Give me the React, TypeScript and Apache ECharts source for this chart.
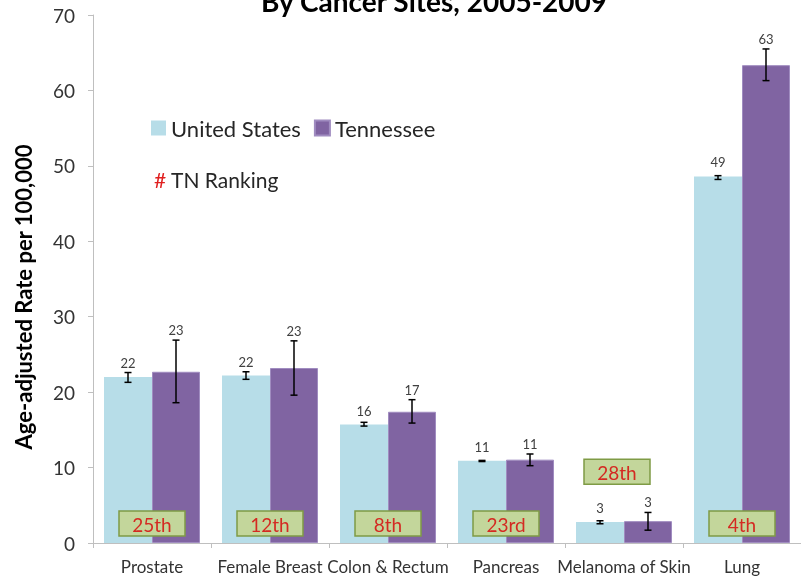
import React, { useEffect, useRef } from "react";
import * as echarts from "echarts";

const categories = ["Prostate", "Female Breast", "Colon & Rectum", "Pancreas", "Melanoma of Skin", "Lung"];
const usValues = [22.0, 22.2, 15.7, 10.9, 2.8, 48.6];
const tnValues = [22.7, 23.2, 17.4, 11.05, 2.9, 63.35];
const usLow = [21.3, 21.7, 15.5, 10.8, 2.55, 48.2];
const usHigh = [22.6, 22.7, 16.0, 10.95, 2.95, 48.7];
const tnLow = [18.6, 19.6, 15.9, 10.25, 1.7, 61.3];
const tnHigh = [26.9, 26.8, 19.0, 11.8, 4.05, 65.5];
const tnRanks = ["25th", "12th", "8th", "23rd", "28th", "4th"];
const yMin = 0;
const yMax = 70;
const yInterval = 10;

const BAR_W = 48;
const FONT = "Lato, 'Open Sans', sans-serif";

function errorRenderer(offset: number) {
  return (params: any, api: any) => {
    const cat = api.value(0);
    const v = api.value(1);
    const lo = api.value(2);
    const hi = api.value(3);
    const cHi = api.coord([cat, hi]);
    const x = cHi[0] + offset;
    const yHi = cHi[1];
    const yLo = api.coord([cat, lo])[1];
    const yBar = api.coord([cat, v])[1];
    const labelY = Math.min(yBar - 14, yHi - 10);
    const st = { stroke: "#000", lineWidth: 1.5 };
    return {
      type: "group",
      children: [
        { type: "line", shape: { x1: x, y1: yHi, x2: x, y2: yLo }, style: st },
        { type: "line", shape: { x1: x - 3.5, y1: yHi, x2: x + 3.5, y2: yHi }, style: st },
        { type: "line", shape: { x1: x - 3.5, y1: yLo, x2: x + 3.5, y2: yLo }, style: st },
        {
          type: "text",
          x: x,
          y: labelY,
          style: {
            text: String(Math.round(v)),
            align: "center",
            verticalAlign: "middle",
            fontSize: 13,
            fontFamily: FONT,
            fill: "#404040",
          },
        },
      ],
    };
  };
}

function rankRenderer(params: any, api: any) {
  const cat = api.value(0);
  const maxV = api.value(1);
  const raised = maxV < 6;
  const yVal = raised ? 9.45 : 2.6;
  const c = api.coord([cat, yVal]);
  const cx = c[0] + (raised ? -7 : 0);
  const cy = c[1];
  const w = 66;
  const h = 25;
  return {
    type: "group",
    children: [
      {
        type: "rect",
        shape: { x: cx - w / 2, y: cy - h / 2, width: w, height: h },
        style: { fill: "#c3d69b", stroke: "#7f9b45", lineWidth: 1.5 },
      },
      {
        type: "text",
        x: cx,
        y: cy + 1,
        style: {
          text: tnRanks[cat],
          align: "center",
          verticalAlign: "middle",
          fontSize: 19,
          fontFamily: FONT,
          fill: "#d42a22",
        },
      },
    ],
  };
}

export default function App() {
  const ref = useRef<HTMLDivElement>(null);
  useEffect(() => {
    if (!ref.current) return;
    const chart = echarts.init(ref.current, undefined, { renderer: "svg" });
    const usErr = categories.map((_, i) => [i, usValues[i], usLow[i], usHigh[i]]);
    const tnErr = categories.map((_, i) => [i, tnValues[i], tnLow[i], tnHigh[i]]);
    const rankData = categories.map((_, i) => [i, Math.max(usValues[i], tnValues[i])]);
    chart.setOption({
      animation: false,
      grid: { left: 93, right: -7, top: 15, bottom: 34, containLabel: false },
      legend: {
        data: ["United States", "Tennessee"],
        left: 151,
        top: 117,
        padding: 0,
        icon: "rect",
        itemWidth: 15,
        itemHeight: 15,
        itemGap: 13,
        textStyle: { fontFamily: FONT, fontSize: 22, color: "#262626" },
      },
      xAxis: {
        type: "category",
        data: categories,
        axisLine: { lineStyle: { color: "#bfbfbf", width: 1 } },
        axisTick: { show: true, length: 5, lineStyle: { color: "#bfbfbf" } },
        axisLabel: { fontFamily: FONT, fontSize: 17, color: "#333", margin: 15, interval: 0 },
      },
      yAxis: {
        type: "value",
        min: yMin,
        max: yMax,
        interval: yInterval,
        splitLine: { show: false },
        axisLine: { show: true, lineStyle: { color: "#bfbfbf", width: 1 } },
        axisTick: { show: true, length: 5, lineStyle: { color: "#bfbfbf" } },
        axisLabel: { fontFamily: FONT, fontSize: 19, color: "#333", margin: 18 },
      },
      graphic: [
        {
          type: "text",
          x: 434,
          y: 1,
          style: {
            text: "By Cancer Sites, 2005-2009",
            align: "center",
            verticalAlign: "middle",
            fontFamily: FONT,
            fontWeight: "bold",
            fontSize: 28,
            fill: "#000",
          },
        },
        {
          type: "text",
          x: 23,
          y: 297,
          rotation: Math.PI / 2,
          style: {
            text: "Age-adjusted Rate per 100,000",
            align: "center",
            verticalAlign: "middle",
            fontFamily: FONT,
            fontWeight: "bold",
            fontSize: 22,
            fill: "#000",
          },
        },
        {
          type: "text",
          x: 154,
          y: 179,
          style: { text: "#", verticalAlign: "middle", fontFamily: FONT, fontSize: 21, fill: "#e02020" },
        },
        {
          type: "text",
          x: 171,
          y: 179,
          style: { text: "TN Ranking", verticalAlign: "middle", fontFamily: FONT, fontSize: 21, fill: "#262626" },
        },
      ],
      series: [
        {
          name: "United States",
          type: "bar",
          data: usValues,
          barWidth: BAR_W,
          barGap: "0%",
          itemStyle: { color: "#b7dde8" },
        },
        {
          name: "Tennessee",
          type: "bar",
          data: tnValues,
          barWidth: BAR_W,
          barGap: "0%",
          itemStyle: { color: "#8064a2", borderColor: "#a08cc0", borderWidth: 1 },
        },
        {
          type: "custom",
          data: usErr,
          renderItem: errorRenderer(-BAR_W / 2),
          z: 5,
          clip: false,
        },
        {
          type: "custom",
          data: tnErr,
          renderItem: errorRenderer(BAR_W / 2),
          z: 5,
          clip: false,
        },
        {
          type: "custom",
          data: rankData,
          renderItem: rankRenderer,
          z: 6,
          clip: false,
        },
      ],
    });
    return () => chart.dispose();
  }, []);
  return <div ref={ref} style={{ position: "fixed", left: 0, top: 0, width: 801, height: 577 }} />;
}
